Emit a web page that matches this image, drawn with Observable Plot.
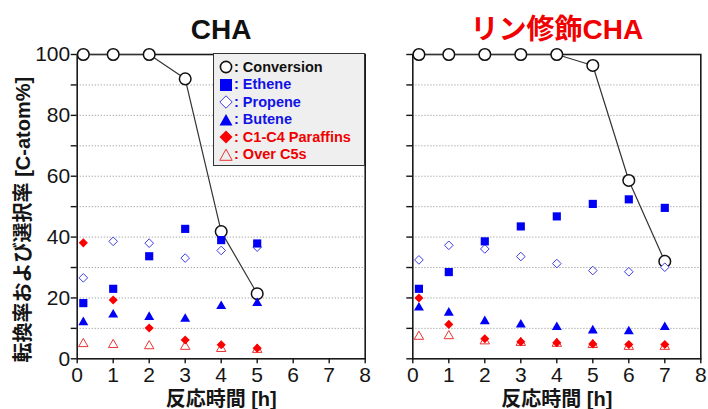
<!DOCTYPE html>
<html>
<head>
<meta charset="utf-8">
<script src="https://cdn.jsdelivr.net/npm/d3@7"></script>
<script src="https://cdn.jsdelivr.net/npm/@observablehq/plot@0.6"></script>
<style>
  html, body { margin: 0; padding: 0; background: #fff; }
  #wrap { position: relative; width: 708px; height: 409px; overflow: hidden; font-family: "Liberation Sans", Arial, "Noto Sans CJK JP", sans-serif; }
  #left { position: absolute; left: 0; top: 0; }
  #right { position: absolute; left: 385px; top: 0; }
  #legend { position: absolute; left: 213px; top: 53px; width: 150px; height: 111px; background: #efefef; border: 1.5px solid #333; box-sizing: content-box; padding: 0; }
  #legend .row { height: 17.5px; line-height: 17.5px; font-size: 14.5px; font-weight: bold; white-space: nowrap; display: flex; align-items: center; }
  #legend svg { margin-left: 5px; margin-right: 1px; flex: none; }
</style>
</head>
<body>
<div id="wrap">
  <div id="left"></div>
  <div id="right"></div>
  <div id="legend"></div>
</div>
<script>
// ---- data ----
const timesCHA = [0.17, 1, 2, 3, 4, 5];
const timesP = [0.17, 1, 2, 3, 4, 5, 6, 7];

const chaConversion = [100, 100, 100, 92.0, 41.8, 21.4];
const chaEthene     = [18.3, 23.0, 33.7, 42.7, 39.0, 37.9];
const chaPropene    = [26.6, 38.6, 38.0, 33.1, 35.6, 36.7];
const chaButene     = [12.0, 14.5, 13.7, 13.1, 17.3, 18.3];
const chaParaffins  = [38.1, 19.3, 10.1, 6.2, 4.6, 3.5];
const chaOverC5     = [4.9, 4.6, 4.2, 4.0, 3.3, 3.0];

const pConversion = [100, 100, 100, 100, 100, 96.4, 58.6, 32.0];
const pEthene     = [23.0, 28.5, 38.6, 43.5, 46.8, 50.9, 52.4, 49.6];
const pPropene    = [32.5, 37.3, 36.1, 33.6, 31.3, 29.0, 28.6, 30.1];
const pButene     = [16.8, 15.1, 12.3, 11.2, 10.4, 9.3, 9.0, 10.4];
const pParaffins  = [20.0, 11.3, 6.6, 5.6, 5.3, 4.9, 4.7, 4.7];
const pOverC5     = [7.3, 7.5, 5.8, 5.3, 5.0, 4.6, 4.0, 4.0];

const xTicks = [0, 1, 2, 3, 4, 5, 6, 7, 8];
const yTicks = [0, 10, 20, 30, 40, 50, 60, 70, 80, 90, 100];
const yLabels = [0, 20, 40, 60, 80, 100];
const gridValues = [10, 20, 30, 40, 50, 60, 70, 80, 90];

const titles = ["CHA", "リン修飾CHA"];
const xLabel = "反応時間 [h]";
const yLabel = "転換率および選択率 [C-atom%]";
const legendNames = ["Conversion", "Ethene", "Propene", "Butene", "C1-C4 Paraffins", "Over C5s"];

const BLUE = "#0000f5";
const BLUE_LIGHT = "#3d3de6";
const RED = "#fa0000";
const RED_LIGHT = "#e83434";
const FONT = '"Liberation Sans", Arial, "Noto Sans CJK JP", sans-serif';

function toRows(xs, ys) { return xs.map((x, i) => ({x, y: ys[i]})); }

function panel({width, marginLeft, marginRight, title, titleColor, showYLabels, xs, conv, eth, pro, but, par, c5}) {
  return Plot.plot({
    width, height: 409,
    marginLeft, marginRight, marginTop: 54, marginBottom: 50.7,
    style: {fontFamily: FONT, fontSize: "21px", color: "#151515", background: "transparent", overflow: "visible"},
    x: {domain: [0, 8]},
    y: {domain: [0, 100]},
    marks: [
      Plot.ruleY(gridValues, {stroke: "#888", strokeWidth: 0.8, strokeDasharray: "1.2,1.8"}),
      Plot.frame({stroke: "#1a1a1a", strokeWidth: 1.6}),
      Plot.axisX({ticks: xTicks, tickSize: 5, tickPadding: 3, tickFormat: d => d, label: null, strokeWidth: 1.4, fontSize: 21}),
      Plot.axisY({ticks: yTicks, tickSize: 6, tickPadding: 1, tickFormat: d => (showYLabels && yLabels.includes(d)) ? d : "", label: null, strokeWidth: 1.4, fontSize: 21}),
      Plot.text([xLabel], {frameAnchor: "bottom", lineAnchor: "top", dy: 33, fontWeight: "bold", fontSize: 20, fill: "#151515"}),
      ...(showYLabels ? [Plot.text([yLabel], {frameAnchor: "left", textAnchor: "middle", rotate: -90, dx: -54, dy: 13, fontWeight: "bold", fontSize: 20, fill: "#151515"})] : []),
      Plot.text([title], {frameAnchor: "top", lineAnchor: "bottom", dy: -16, fontWeight: "bold", fontSize: 28, fill: titleColor}),
      Plot.line(toRows(xs, conv), {x: "x", y: "y", stroke: "#333", strokeWidth: 1.2}),
      Plot.dot(toRows(xs, conv), {x: "x", y: "y", r: 5.8, fill: "white", stroke: "#111", strokeWidth: 1.5}),
      Plot.dot(toRows(xs, pro), {x: "x", y: "y", symbol: "diamond2", r: 3.9, fill: "white", stroke: BLUE_LIGHT, strokeWidth: 1}),
      Plot.dot(toRows(xs, eth), {x: "x", y: "y", symbol: "square", r: 4.6, fill: BLUE, stroke: "none"}),
      Plot.dot(toRows(xs, but), {x: "x", y: "y", symbol: "triangle", r: 3.7, fill: BLUE, stroke: "none"}),
      Plot.dot(toRows(xs, c5), {x: "x", y: "y", symbol: "triangle", r: 3.5, fill: "none", stroke: RED_LIGHT, strokeWidth: 1}),
      Plot.dot(toRows(xs, par), {x: "x", y: "y", symbol: "diamond2", r: 4.1, fill: RED, stroke: "none"})
    ]
  });
}

document.getElementById("left").append(panel({
  width: 385, marginLeft: 76.7, marginRight: 20.3,
  title: titles[0], titleColor: "#111", showYLabels: true,
  xs: timesCHA, conv: chaConversion, eth: chaEthene, pro: chaPropene, but: chaButene, par: chaParaffins, c5: chaOverC5
}));
document.getElementById("right").append(panel({
  width: 323, marginLeft: 27.3, marginRight: 7.7,
  title: titles[1], titleColor: "#f00000", showYLabels: false,
  xs: timesP, conv: pConversion, eth: pEthene, pro: pPropene, but: pButene, par: pParaffins, c5: pOverC5
}));

// ---- legend (HTML) ----
const legendSymbols = [
  `<circle cx="7" cy="7" r="5.6" fill="white" stroke="#111" stroke-width="1.6"/>`,
  `<rect x="1" y="1" width="12" height="12" fill="${BLUE}"/>`,
  `<path d="M7 0.8 L13.2 7 L7 13.2 L0.8 7 Z" fill="white" stroke="${BLUE_LIGHT}" stroke-width="1"/>`,
  `<path d="M7 1 L13.5 12.5 L0.5 12.5 Z" fill="${BLUE}"/>`,
  `<path d="M7 0.5 L13.5 7 L7 13.5 L0.5 7 Z" fill="${RED}"/>`,
  `<path d="M7 1.2 L13.2 12.3 L0.8 12.3 Z" fill="none" stroke="${RED_LIGHT}" stroke-width="1"/>`
];
const legendColors = ["#111", "#1212e6", "#1212e6", "#1212e6", "#f00000", "#f00000"];
const legend = document.getElementById("legend");
legend.style.paddingTop = "4.5px";
legend.style.height = "106.5px";
legendNames.forEach((name, i) => {
  const row = document.createElement("div");
  row.className = "row";
  row.style.color = legendColors[i];
  row.innerHTML = `<svg width="14" height="14" viewBox="0 0 14 14">${legendSymbols[i]}</svg><span>: ${name}</span>`;
  legend.append(row);
});
</script>
</body>
</html>
